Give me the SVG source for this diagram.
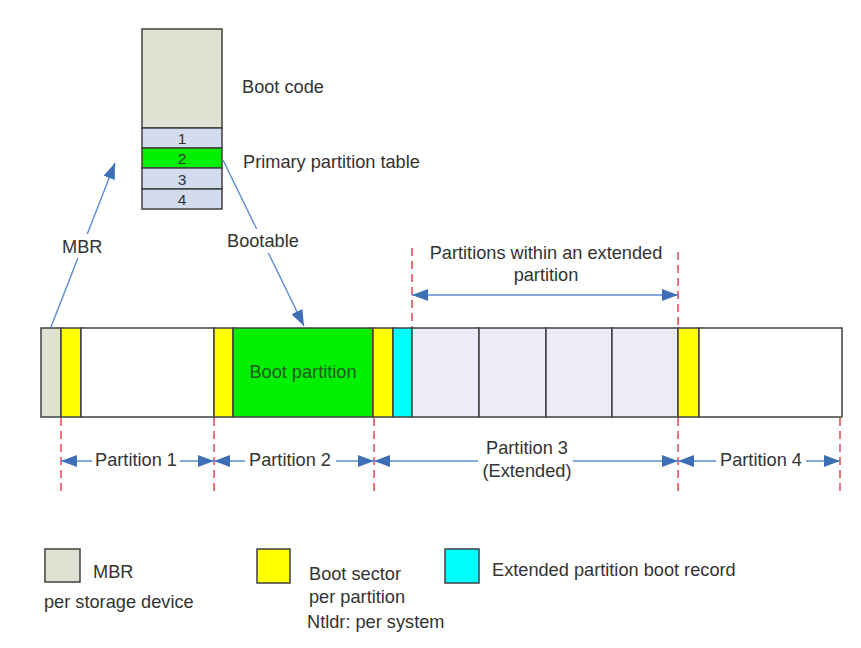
<svg xmlns="http://www.w3.org/2000/svg" width="861" height="648" viewBox="0 0 861 648">
<style>
text{font-family:"Liberation Sans",Arial,sans-serif;fill:#333;font-size:18.2px}
.b{stroke:#404040;stroke-width:1.5}
.num{font-size:15.5px;text-anchor:middle}
.c{text-anchor:middle}
.arr{stroke:#5b8bd0;stroke-width:1.4;fill:none}
.red{stroke:#e8515c;stroke-width:1.6;stroke-dasharray:8 5;fill:none}
.bg{fill:#fff}
</style>
<defs>
<marker id="ah" viewBox="0 0 16 12" refX="16" refY="6" markerWidth="16" markerHeight="12" markerUnits="userSpaceOnUse" orient="auto-start-reverse">
<path d="M0,0 L16,6 L0,12 z" fill="#3d6fb6"/>
</marker>
</defs>
<rect width="861" height="648" fill="#fff"/>

<g id="mbr-detail">
<rect x="142" y="29" width="80" height="99" fill="#e0e2d4" class="b"/>
<rect x="142" y="128" width="80" height="20" fill="#d3dcef" class="b"/>
<rect x="142" y="148" width="80" height="20" fill="#00f000" class="b"/>
<rect x="142" y="168" width="80" height="21" fill="#d3dcef" class="b"/>
<rect x="142" y="189" width="80" height="20" fill="#d3dcef" class="b"/>
<text x="182" y="144" class="num">1</text>
<text x="182" y="164" class="num">2</text>
<text x="182" y="185" class="num">3</text>
<text x="182" y="205" class="num">4</text>
<text x="242" y="93">Boot code</text>
<text x="243" y="168">Primary partition table</text>
</g>

<g id="disk">
<rect x="41" y="328" width="20" height="89" fill="#e0e2d4" class="b"/>
<rect x="61" y="328" width="20" height="89" fill="#ffff00" class="b"/>
<rect x="81" y="328" width="133" height="89" fill="#fff" class="b"/>
<rect x="214" y="328" width="19" height="89" fill="#ffff00" class="b"/>
<rect x="233" y="328" width="140" height="89" fill="#00f000" class="b"/>
<rect x="373" y="328" width="20" height="89" fill="#ffff00" class="b"/>
<rect x="393" y="328" width="19" height="89" fill="#00ffff" class="b"/>
<rect x="412" y="328" width="67" height="89" fill="#ececf8" class="b"/>
<rect x="479" y="328" width="67" height="89" fill="#ececf8" class="b"/>
<rect x="546" y="328" width="66" height="89" fill="#ececf8" class="b"/>
<rect x="612" y="328" width="66" height="89" fill="#ececf8" class="b"/>
<rect x="678" y="328" width="21" height="89" fill="#ffff00" class="b"/>
<rect x="699" y="328" width="143" height="89" fill="#fff" class="b"/>
<text x="303" y="378" class="c" style="fill:#1c5a1c">Boot partition</text>
</g>

<g id="guides">
<line x1="61" y1="418" x2="61" y2="492" class="red"/>
<line x1="214" y1="418" x2="214" y2="492" class="red"/>
<line x1="374" y1="418" x2="374" y2="492" class="red"/>
<line x1="412" y1="248" x2="412" y2="327" class="red"/>
<line x1="678" y1="252" x2="678" y2="327" class="red"/>
<line x1="678" y1="418" x2="678" y2="492" class="red"/>
<line x1="840" y1="418" x2="840" y2="492" class="red"/>
</g>

<g id="connectors">
<line x1="51" y1="327" x2="115" y2="163" class="arr" marker-end="url(#ah)"/>
<line x1="223" y1="160" x2="304" y2="326" class="arr" marker-end="url(#ah)"/>
<line x1="412" y1="295" x2="678" y2="295" class="arr" marker-start="url(#ah)" marker-end="url(#ah)"/>
<line x1="61" y1="461" x2="214" y2="461" class="arr" marker-start="url(#ah)" marker-end="url(#ah)"/>
<line x1="214" y1="461" x2="374" y2="461" class="arr" marker-start="url(#ah)" marker-end="url(#ah)"/>
<line x1="374" y1="461" x2="678" y2="461" class="arr" marker-start="url(#ah)" marker-end="url(#ah)"/>
<line x1="678" y1="461" x2="840" y2="461" class="arr" marker-start="url(#ah)" marker-end="url(#ah)"/>
</g>

<g id="labels">
<rect x="59" y="234" width="48" height="24" class="bg"/>
<text x="62" y="253">MBR</text>
<rect x="224" y="229" width="78" height="24" class="bg"/>
<text x="227" y="247">Bootable</text>
<text x="546" y="259" class="c">Partitions within an extended</text>
<text x="546" y="281" class="c">partition</text>
<rect x="92" y="450" width="88" height="22" class="bg"/>
<text x="136" y="466" class="c">Partition 1</text>
<rect x="245" y="450" width="91" height="22" class="bg"/>
<text x="290" y="466" class="c">Partition 2</text>
<rect x="478" y="436" width="95" height="46" class="bg"/>
<text x="527" y="454" class="c">Partition 3</text>
<text x="527" y="477" class="c">(Extended)</text>
<rect x="716" y="450" width="90" height="22" class="bg"/>
<text x="761" y="466" class="c">Partition 4</text>
</g>

<g id="legend">
<rect x="45" y="549" width="35" height="33" fill="#e0e2d4" class="b"/>
<text x="93" y="578">MBR</text>
<text x="44" y="608">per storage device</text>
<rect x="257" y="549" width="33" height="34" fill="#ffff00" class="b"/>
<text x="309" y="580">Boot sector</text>
<text x="309" y="603">per partition</text>
<text x="307" y="628">Ntldr: per system</text>
<rect x="445" y="549" width="34" height="34" fill="#00ffff" class="b"/>
<text x="492" y="576">Extended partition boot record</text>
</g>
</svg>
